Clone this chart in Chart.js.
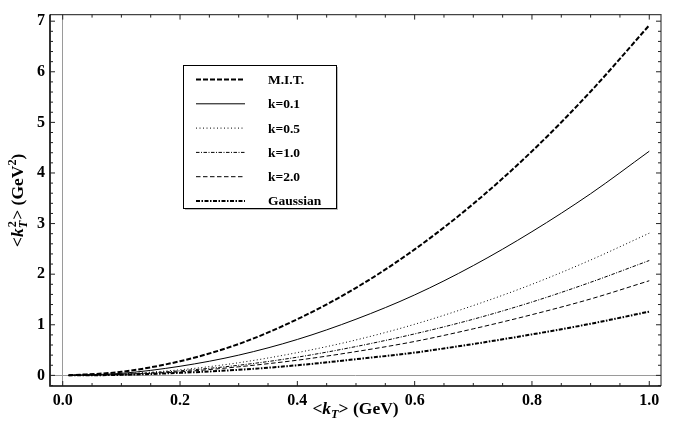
<!DOCTYPE html>
<html>
<head>
<meta charset="utf-8">
<script src="https://cdn.jsdelivr.net/npm/chart.js@4.4.1/dist/chart.umd.min.js"></script>
<style>
  body { margin: 0; background: #fff; }
  canvas { display: block; }
</style>
</head>
<body>
<canvas id="chart" width="680" height="427"></canvas>
<script>
// values
const kT = [0.01, 0.1, 0.2, 0.3, 0.4, 0.5, 0.6, 0.7, 0.8, 0.9, 1.0];
const mit      = [0.00, 0.07, 0.28, 0.62, 1.11, 1.73, 2.49, 3.39, 4.43, 5.61, 6.92];
const k01      = [0.00, 0.04, 0.18, 0.40, 0.71, 1.11, 1.59, 2.17, 2.84, 3.59, 4.43];
const k05      = [0.00, 0.03, 0.11, 0.25, 0.45, 0.70, 1.01, 1.38, 1.80, 2.28, 2.81];
const k10      = [0.00, 0.02, 0.09, 0.20, 0.36, 0.57, 0.82, 1.11, 1.45, 1.84, 2.27];
const k20      = [0.00, 0.02, 0.07, 0.17, 0.30, 0.47, 0.67, 0.92, 1.20, 1.51, 1.87];
const gaussian = [0.00, 0.01, 0.05, 0.11, 0.20, 0.32, 0.45, 0.62, 0.81, 1.02, 1.26];

const seriesLabels = ['M.I.T.', 'k=0.1', 'k=0.5', 'k=1.0', 'k=2.0', 'Gaussian'];
const seriesValues = [mit, k01, k05, k10, k20, gaussian];

const xTicks = [0.0, 0.2, 0.4, 0.6, 0.8, 1.0];
const yTicks = [0, 1, 2, 3, 4, 5, 6, 7];

const SERIF = '"Liberation Serif", "DejaVu Serif", serif';

// line looks, same order as seriesLabels
const looks = [
    { width: 2.0, dash: [5, 2] },
    { width: 1.0, dash: [] },
    { width: 1.0, dash: [1, 2.5] },
    { width: 1.0, dash: [3.5, 1.5, 1, 1.5] },
    { width: 1.0, dash: [4.5, 2.5] },
    { width: 2.0, dash: [4, 1.5, 1.5, 1.5] }
];

const datasets = seriesLabels.map((label, i) => ({
    label: label,
    data: kT.map((x, j) => ({ x: x, y: seriesValues[i][j] })),
    borderColor: '#000',
    borderWidth: looks[i].width,
    borderDash: looks[i].dash,
    pointRadius: 0,
    fill: false,
    cubicInterpolationMode: 'monotone'
}));

function fontFor(p, size) {
    const s = p.sub || p.sup ? size * 0.7 : size;
    return (p.italic ? 'italic ' : '') + 'bold ' + s + 'px ' + SERIF;
}

// draws a string made of pieces, some of them sub/superscript
function richWidth(ctx, parts, size) {
    let w = 0;
    parts.forEach(p => {
        if (p.stack) {
            ctx.font = 'italic bold ' + (size * 0.7) + 'px ' + SERIF;
            const a = ctx.measureText(p.sub).width;
            ctx.font = 'bold ' + (size * 0.7) + 'px ' + SERIF;
            const b = ctx.measureText(p.sup).width;
            w += Math.max(a, b) + 1;
        } else {
            ctx.font = fontFor(p, size);
            w += ctx.measureText(p.t).width;
        }
    });
    return w;
}

function drawRich(ctx, parts, x, y, size) {
    let cx = x - richWidth(ctx, parts, size) / 2;
    ctx.textBaseline = 'alphabetic';
    ctx.textAlign = 'left';
    parts.forEach(p => {
        if (p.stack) {
            ctx.font = 'italic bold ' + (size * 0.7) + 'px ' + SERIF;
            const a = ctx.measureText(p.sub).width;
            ctx.fillText(p.sub, cx, y + size * 0.25);
            ctx.font = 'bold ' + (size * 0.7) + 'px ' + SERIF;
            const b = ctx.measureText(p.sup).width;
            ctx.fillText(p.sup, cx + 1, y - size * 0.4);
            cx += Math.max(a, b) + 1;
        } else {
            ctx.font = fontFor(p, size);
            let dy = 0;
            if (p.sub) dy = size * 0.25;
            if (p.sup) dy = -size * 0.4;
            ctx.fillText(p.t, cx, y + dy);
            cx += ctx.measureText(p.t).width;
        }
    });
}

const framePlugin = {
    id: 'frame',
    afterDraw(chart) {
        const ctx = chart.ctx;
        const a = chart.chartArea;
        const xs = chart.scales.x, ys = chart.scales.y;
        ctx.save();

        // frame
        ctx.setLineDash([]);
        ctx.strokeStyle = '#444';
        ctx.lineWidth = 1.2;
        ctx.beginPath();
        ctx.moveTo(a.left, a.top); ctx.lineTo(a.right, a.top); ctx.lineTo(a.right, a.bottom);
        ctx.stroke();
        ctx.strokeStyle = '#000';
        ctx.lineWidth = 1.6;
        ctx.beginPath();
        ctx.moveTo(a.left, a.top); ctx.lineTo(a.left, a.bottom); ctx.lineTo(a.right, a.bottom);
        ctx.stroke();

        // inward ticks, major and minor
        ctx.lineWidth = 1;
        ctx.strokeStyle = '#222';
        ctx.beginPath();
        for (let i = 0; i <= 20; i++) {
            const px = xs.getPixelForValue(i * 0.05);
            const len = i % 4 === 0 ? 5 : 3;
            ctx.moveTo(px, a.bottom); ctx.lineTo(px, a.bottom - len);
            ctx.moveTo(px, a.top); ctx.lineTo(px, a.top + len);
        }
        for (let i = -1; i <= 35; i++) {
            const py = ys.getPixelForValue(i * 0.2);
            const len = i % 5 === 0 ? 5 : 3;
            ctx.moveTo(a.left, py); ctx.lineTo(a.left + len, py);
            ctx.moveTo(a.right, py); ctx.lineTo(a.right - len, py);
        }
        ctx.stroke();

        // legend
        const bx = 183, by = 65, bw = 153, bh = 143;
        ctx.fillStyle = '#bbb';
        ctx.fillRect(bx + 2, by + 2, bw, bh);
        ctx.fillStyle = '#fff';
        ctx.fillRect(bx, by, bw, bh);
        ctx.strokeStyle = '#000';
        ctx.lineWidth = 1;
        ctx.strokeRect(bx + 0.5, by + 0.5, bw, bh);
        chart.data.datasets.forEach((ds, i) => {
            const ry = 79.5 + i * 24.3;
            ctx.strokeStyle = '#000';
            ctx.lineWidth = ds.borderWidth;
            ctx.setLineDash(ds.borderDash);
            ctx.beginPath();
            ctx.moveTo(196, ry); ctx.lineTo(245, ry);
            ctx.stroke();
            ctx.setLineDash([]);
            ctx.fillStyle = '#000';
            ctx.font = 'bold 13.5px ' + SERIF;
            ctx.textAlign = 'left';
            ctx.textBaseline = 'middle';
            ctx.fillText(ds.label, 268, ry + 1);
        });

        // axis titles
        ctx.fillStyle = '#000';
        drawRich(ctx, [
            { t: '<' }, { t: 'k', italic: true }, { t: 'T', sub: true, italic: true }, { t: '> (GeV)' }
        ], (a.left + a.right) / 2, 414, 17.5);

        ctx.translate(23, (a.top + a.bottom) / 2);
        ctx.rotate(-Math.PI / 2);
        drawRich(ctx, [
            { t: '<' }, { t: 'k', italic: true }, { stack: true, sub: 'T', sup: '2' }, { t: '> (GeV' }, { t: '2', sup: true }, { t: ')' }
        ], 0, 0, 17.5);
        ctx.restore();
    }
};

new Chart(document.getElementById('chart'), {
    type: 'line',
    data: { datasets: datasets },
    options: {
        responsive: false,
        animation: false,
        layout: { padding: { top: 8, right: 19, left: 0, bottom: 0 } },
        plugins: { legend: { display: false }, tooltip: { enabled: false } },
        scales: {
            x: {
                type: 'linear',
                min: -0.0217,
                max: 1.02,
                afterBuildTicks: s => { s.ticks = xTicks.map(v => ({ value: v })); },
                afterFit: s => { s.height = 41; },
                border: { display: false },
                grid: {
                    drawTicks: false,
                    color: c => (c.tick && c.tick.value === 0 ? '#9a9a9a' : 'rgba(0,0,0,0)'),
                    lineWidth: 1
                },
                ticks: {
                    padding: 5,
                    color: '#000',
                    maxRotation: 0,
                    font: { family: SERIF, size: 16, weight: 'bold' },
                    callback: v => Number(v).toFixed(1)
                }
            },
            y: {
                type: 'linear',
                min: -0.21,
                max: 7.13,
                afterBuildTicks: s => { s.ticks = yTicks.map(v => ({ value: v })); },
                afterFit: s => { s.width = 50; },
                border: { display: false },
                grid: {
                    drawTicks: false,
                    color: c => (c.tick && c.tick.value === 0 ? '#9a9a9a' : 'rgba(0,0,0,0)'),
                    lineWidth: 1
                },
                ticks: {
                    padding: 5,
                    color: '#000',
                    font: { family: SERIF, size: 16, weight: 'bold' },
                    callback: v => String(v)
                }
            }
        }
    },
    plugins: [framePlugin]
});
</script>
</body>
</html>
